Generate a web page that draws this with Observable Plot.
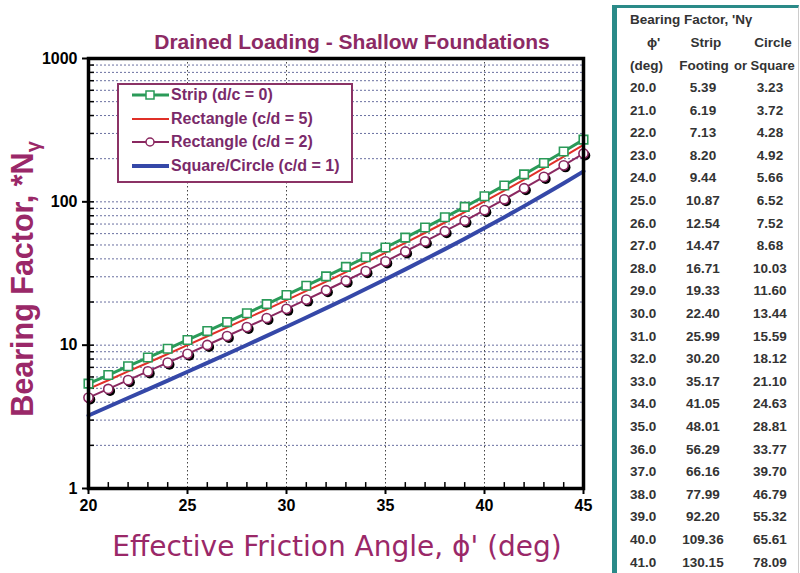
<!DOCTYPE html>
<html><head><meta charset="utf-8">
<script src="https://cdn.jsdelivr.net/npm/d3@7"></script>
<script src="https://cdn.jsdelivr.net/npm/@observablehq/plot@0.6"></script>
<style>
body{margin:0;background:#fff;}
#wrap{position:relative;width:800px;height:573px;overflow:hidden;background:#fff;font-family:"Liberation Sans",Arial,sans-serif;}
#chart{position:absolute;left:0;top:0;}
.title{position:absolute;left:352px;top:42px;transform:translate(-50%,-50%);font-weight:bold;font-size:21px;color:#8c2a64;white-space:nowrap;}
.ylab{position:absolute;left:25px;top:279px;transform:translate(-50%,-50%) rotate(-90deg);font-weight:bold;font-size:30.5px;color:#9a2868;white-space:nowrap;line-height:1;}
.xlab{position:absolute;left:337px;top:546px;transform:translate(-50%,-50%);font-family:"DejaVu Sans",sans-serif;font-size:28px;color:#9a2868;white-space:nowrap;}
.legend{position:absolute;left:117px;top:83px;width:232px;height:96px;border:2px solid #8b3265;background:#fff;}
.li{position:absolute;left:13px;height:20px;display:flex;align-items:center;font-weight:bold;font-size:16px;color:#7a2a6a;white-space:nowrap;}
.li svg{margin-right:2px;}
.table{position:absolute;left:612px;top:5px;width:181px;height:570px;border-left:5px solid #2a8a88;border-top:3px solid #2a8a88;border-right:1px solid #ccc;font-weight:bold;font-size:13.5px;color:#333;}
.tt{position:absolute;white-space:nowrap;line-height:16px;height:16px;}
</style></head><body><div id="wrap"><div id="chart"></div></div>
<script>
// friction angle (deg)
const phi = [20,21,22,23,24,25,26,27,28,29,30,31,32,33,34,35,36,37,38,39,40,41,42,43,44,45];
// Strip (d/c = 0)
const strip = [5.39,6.19,7.13,8.20,9.44,10.87,12.54,14.47,16.71,19.33,22.40,25.99,30.20,35.17,41.05,48.01,56.29,66.16,77.99,92.20,109.36,130.15,155.55,186.54,224.64,271.76];
// Rectangle (c/d = 5)
const rect5 = [4.96,5.69,6.56,7.54,8.68,10.00,11.54,13.31,15.37,17.78,20.61,23.91,27.78,32.36,37.77,44.17,51.79,60.87,71.75,84.82,100.61,119.74,143.11,171.62,206.67,250.02];
// Rectangle (c/d = 2)
const rect2 = [4.31,4.95,5.70,6.56,7.55,8.70,10.03,11.58,13.37,15.46,17.92,20.79,24.16,28.14,32.84,38.41,45.03,52.93,62.39,73.76,87.49,104.12,124.44,149.23,179.71,217.41];
// Square/Circle (c/d = 1)
const circle = [3.23,3.72,4.28,4.92,5.66,6.52,7.52,8.68,10.03,11.60,13.44,15.59,18.12,21.10,24.63,28.81,33.77,39.70,46.79,55.32,65.61,78.09,93.33,111.92,134.78,163.06];

const xTicks = [20,25,30,35,40,45];
const xGridVals = [25,30,35,40];
const xMinor = [21,22,23,24,26,27,28,29,31,32,33,34,36,37,38,39,41,42,43,44];
const yTicks = [1,10,100,1000];
const yGridVals = [2,3,4,5,6,7,8,9,10,20,30,40,50,60,70,80,90,100,200,300,400,500,600,700,800,900];

// table (right panel)
const tablePhi = ["20.0","21.0","22.0","23.0","24.0","25.0","26.0","27.0","28.0","29.0","30.0","31.0","32.0","33.0","34.0","35.0","36.0","37.0","38.0","39.0","40.0","41.0"];
const tableStrip = ["5.39","6.19","7.13","8.20","9.44","10.87","12.54","14.47","16.71","19.33","22.40","25.99","30.20","35.17","41.05","48.01","56.29","66.16","77.99","92.20","109.36","130.15"];
const tableCircle = ["3.23","3.72","4.28","4.92","5.66","6.52","7.52","8.68","10.03","11.60","13.44","15.59","18.12","21.10","24.63","28.81","33.77","39.70","46.79","55.32","65.61","78.09"];

const legendItems = ["Strip (d/c = 0)","Rectangle (c/d = 5)","Rectangle (c/d = 2)","Square/Circle (c/d = 1)"];

const C = {strip:"#2a9a58", rect5:"#e03028", rect2:"#8a2860", circle:"#3548a8"};

const rows = phi.map((p,i)=>({phi:p, strip:strip[i], rect5:rect5[i], rect2:rect2[i], circle:circle[i]}));

const chart = Plot.plot({
  width:610, height:573,
  marginLeft:88, marginRight:27, marginTop:58, marginBottom:85,
  x:{domain:[20,45]},
  y:{type:"log", domain:[1,1000]},
  style:{fontFamily:"'Liberation Sans',Arial,sans-serif", fontSize:"16px", fontWeight:"bold", color:"#000", background:"transparent"},
  marks:[
    Plot.ruleY(yGridVals,{stroke:"#6a70a0",strokeDasharray:"2,2",strokeWidth:1}),
    Plot.ruleX(xGridVals,{stroke:"#444",strokeDasharray:"1.5,2.5",strokeWidth:1}),
    Plot.ruleY(yGridVals,{x1:20,x2:20.3,stroke:"#000",strokeWidth:1.5}),
    Plot.ruleX(xMinor,{y1:1,y2:1.1,stroke:"#000",strokeWidth:1.5}),
    Plot.lineY(rows,{x:"phi",y:"circle",stroke:C.circle,strokeWidth:4}),
    Plot.lineY(rows,{x:"phi",y:"rect5",stroke:C.rect5,strokeWidth:2}),
    Plot.lineY(rows,{x:"phi",y:"rect2",stroke:C.rect2,strokeWidth:2}),
    Plot.dot(rows,{x:"phi",y:"rect2",r:5,fill:"#000",dx:1.8,dy:2}),
    Plot.dot(rows,{x:"phi",y:"rect2",r:4.6,fill:"#fff",stroke:C.rect2,strokeWidth:1.6}),
    Plot.lineY(rows,{x:"phi",y:"strip",stroke:C.strip,strokeWidth:3}),
    Plot.dot(rows,{x:"phi",y:"strip",symbol:"square",r:4.8,fill:"#fff",stroke:C.strip,strokeWidth:1.6}),
    Plot.axisY({ticks:yTicks, tickFormat:d=>String(d), tickSize:6, tickPadding:5, label:null, strokeWidth:2}),
    Plot.axisX({ticks:xTicks, tickFormat:d=>String(d), tickSize:6, tickPadding:5, label:null, strokeWidth:2}),
    Plot.frame({stroke:"#000",strokeWidth:3.5})
  ]
});
const wrap = document.getElementById("wrap");
document.getElementById("chart").appendChild(chart);

function add(cls, html, style){const d=document.createElement("div");d.className=cls;d.innerHTML=html;if(style)Object.assign(d.style,style);return d;}
wrap.appendChild(add("title","Drained Loading - Shallow Foundations"));
wrap.appendChild(add("ylab","Bearing Factor, *N<sub style='font-size:20px'>γ</sub>"));
wrap.appendChild(add("xlab","Effective Friction Angle, ϕ' (deg)"));

// legend
const lg = add("legend","");
const sw = [
  `<svg width="37" height="12"><line x1="0" y1="6" x2="37" y2="6" stroke="${C.strip}" stroke-width="3"/><rect x="14" y="2" width="8" height="8" fill="#fff" stroke="${C.strip}" stroke-width="1.5"/></svg>`,
  `<svg width="37" height="12"><line x1="0" y1="6" x2="37" y2="6" stroke="${C.rect5}" stroke-width="2"/></svg>`,
  `<svg width="37" height="12"><line x1="0" y1="6" x2="37" y2="6" stroke="${C.rect2}" stroke-width="2"/><circle cx="18" cy="6" r="4" fill="#fff" stroke="${C.rect2}" stroke-width="1.5"/></svg>`,
  `<svg width="37" height="12"><line x1="0" y1="6" x2="37" y2="6" stroke="${C.circle}" stroke-width="4"/></svg>`
];
legendItems.forEach((t,i)=>{lg.appendChild(add("li", sw[i]+t, {top:(0+i*23.6)+"px"}));});
wrap.appendChild(lg);

// table
const tb = add("table","");
const L0 = 617, T0 = 8;
function tt(txt,x,y,align,extra){const d=add("tt",txt);d.style.top=(y-T0-8)+"px";if(align==="c"){d.style.left=(x-L0-40)+"px";d.style.width="80px";d.style.textAlign="center";}else{d.style.left=(x-L0)+"px";}if(extra)Object.assign(d.style,extra);tb.appendChild(d);}
tt("Bearing Factor, 'N<span style='font-size:13px'>γ</span>",630,20,"l");
tt("ϕ'",647,43,"l");
tt("Strip",706,43,"c");
tt("Circle",773,43,"c");
tt("(deg)",630,66,"l");
tt("Footing",704,66,"c");
tt("or Square",734,66,"l",{fontSize:"13px"});
tablePhi.forEach((p,i)=>{
  const y = 88 + i*22.6;
  tt(p,630,y,"l");
  tt(tableStrip[i],703,y,"c");
  tt(tableCircle[i],770,y,"c");
});
wrap.appendChild(tb);
</script></body></html>
